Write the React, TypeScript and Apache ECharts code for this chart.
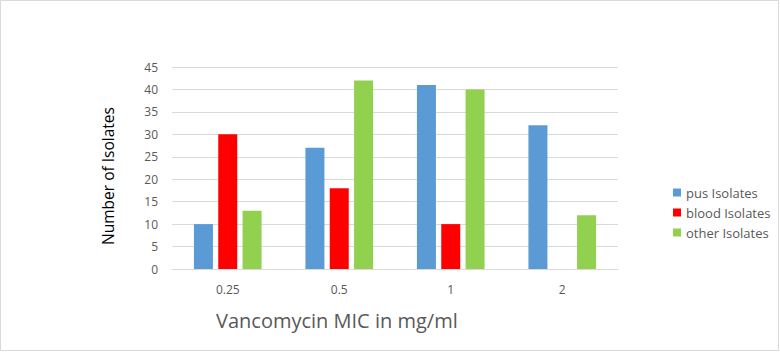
import React, { useEffect, useRef } from "react";
import * as echarts from "echarts";

const categories = ["0.25", "0.5", "1", "2"];
const pusIsolates = [10, 27, 41, 32];
const bloodIsolates = [30, 18, 10, 0];
const otherIsolates = [13, 42, 40, 12];
const seriesNames = ["pus Isolates", "blood Isolates", "other Isolates"];
const colors = ["#5B9BD5", "#FF0000", "#92D050"];

export default function App() {
  const ref = useRef<HTMLDivElement>(null);
  useEffect(() => {
    const chart = echarts.init(ref.current!, null, { renderer: "svg" });
    const font = "'Open Sans', 'Noto Sans', sans-serif";
    const data = [pusIsolates, bloodIsolates, otherIsolates];
    chart.setOption({
      animation: false,
      backgroundColor: "#fff",
      textStyle: { fontFamily: font },
      grid: { left: 172, right: 162, top: 67, bottom: 83 },
      legend: {
        orient: "vertical",
        left: 668,
        top: 181,
        itemWidth: 8,
        itemHeight: 8,
        itemGap: 7,
        icon: "rect",
        textStyle: { color: "#595959", fontSize: 13, fontFamily: font },
        data: seriesNames,
      },
      xAxis: {
        type: "category",
        data: categories,
        axisLine: { lineStyle: { color: "#D9D9D9" } },
        axisTick: { show: false },
        axisLabel: { color: "#595959", fontSize: 12, margin: 14 },
      },
      yAxis: {
        type: "value",
        min: 0,
        max: 45,
        interval: 5,
        axisLine: { show: false },
        axisTick: { show: false },
        splitLine: { lineStyle: { color: "#D9D9D9" } },
        axisLabel: { color: "#595959", fontSize: 12, margin: 14 },
      },
      graphic: [
        {
          type: "rect",
          shape: { x: 0.5, y: 0.5, width: 778, height: 350 },
          style: { fill: "none", stroke: "#D9D9D9", lineWidth: 1 },
          silent: true,
        },
        {
          type: "text",
          x: 108,
          y: 176,
          rotation: Math.PI / 2,
          style: {
            text: "Number of Isolates",
            fill: "#000",
            fontSize: 15.5,
            fontFamily: font,
            align: "center",
            verticalAlign: "middle",
          },
        },
        {
          type: "text",
          left: 216,
          top: 310,
          style: {
            text: "Vancomycin MIC in mg/ml",
            fill: "#595959",
            fontSize: 20,
            fontFamily: font,
          },
        },
      ],
      series: seriesNames.map((name, i) => ({
        name,
        type: "bar",
        data: data[i],
        barWidth: 19,
        barGap: "28%",
        itemStyle: { color: colors[i] },
      })),
    });
    return () => chart.dispose();
  }, []);
  return (
    <div
      ref={ref}
      style={{ position: "fixed", left: 0, top: 0, width: 780, height: 352 }}
    />
  );
}
